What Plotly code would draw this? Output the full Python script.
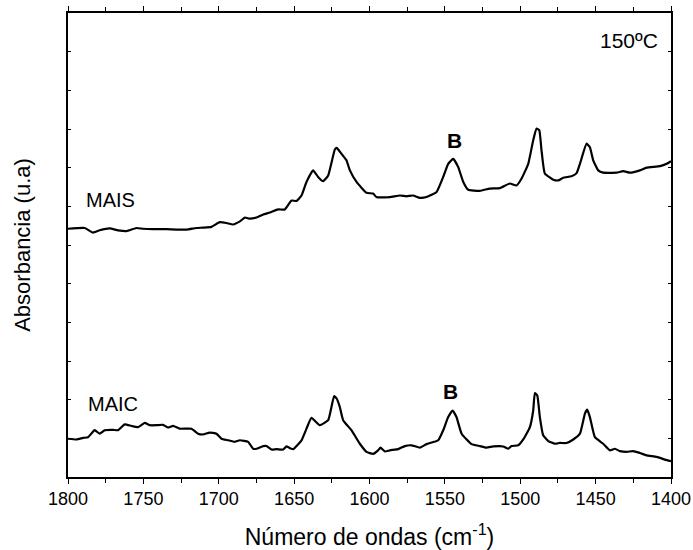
import plotly.graph_objects as go

# MAIS spectrum (upper trace), wavenumber in cm-1 and absorbance offset
mais_wn = [1800, 1788.9, 1783.4, 1779, 1772.3, 1766.8, 1761.2, 1754.6, 1750.2, 1743.6,
           1734.7, 1728.1, 1721.4, 1714.8, 1710.4, 1704.8, 1699.3, 1694.9, 1690.5, 1686,
           1682.7, 1679.4, 1675, 1670.5, 1666.1, 1660.6, 1656.2, 1651.7, 1648.4, 1645.1,
           1641.8, 1637.4, 1634.1, 1630.8, 1627.4, 1623, 1621.8, 1618.6, 1615.3, 1613,
           1608.6, 1602, 1597.6, 1595.4, 1586.5, 1579.9, 1575.5, 1571.1, 1566.6, 1562.2,
           1555.5, 1551.1, 1547.8, 1544.5, 1541.2, 1537.8, 1534.5, 1526.8, 1520.2, 1513.5,
           1506.9, 1502.5, 1499.1, 1494.7, 1491.4, 1489.2, 1487.4, 1485.9, 1483.7, 1478.1,
           1474.8, 1471.5, 1466, 1462.6, 1460.4, 1456, 1453.8, 1451.6, 1448.3, 1445,
           1436.1, 1431.7, 1427.2, 1420.6, 1416.2, 1407.3, 1402.9, 1400]
mais_abs = [6.42, 6.44, 6.32, 6.38, 6.43, 6.38, 6.36, 6.44, 6.42, 6.41,
            6.41, 6.40, 6.40, 6.44, 6.45, 6.47, 6.59, 6.57, 6.53, 6.61,
            6.71, 6.68, 6.71, 6.79, 6.84, 6.92, 6.92, 7.15, 7.14, 7.28,
            7.63, 7.93, 7.76, 7.65, 7.80, 8.47, 8.51, 8.36, 8.19, 7.93,
            7.63, 7.35, 7.33, 7.24, 7.24, 7.28, 7.26, 7.28, 7.22, 7.24,
            7.37, 7.76, 8.10, 8.23, 8.02, 7.63, 7.43, 7.40, 7.46, 7.47,
            7.59, 7.54, 7.72, 8.10, 8.71, 9.01, 8.97, 8.45, 7.85, 7.69,
            7.67, 7.74, 7.78, 7.86, 8.10, 8.62, 8.53, 8.19, 7.93, 7.87,
            7.87, 7.91, 7.87, 7.93, 8.00, 8.04, 8.10, 8.17]

# MAIC spectrum (lower trace)
maic_wn = [1800, 1794.4, 1790, 1786.7, 1782.3, 1779, 1775.7, 1770.1, 1766.8, 1762.4,
           1757.9, 1753.5, 1749.1, 1745.8, 1741.3, 1737, 1733.6, 1730.3, 1725.9, 1718.1,
           1713.7, 1710.4, 1706, 1701.5, 1698.2, 1693.8, 1689.4, 1686, 1680.5, 1677.2,
           1675, 1670.5, 1668.3, 1665, 1661.7, 1657.3, 1655.1, 1652.9, 1650.7, 1645.1,
           1641.8, 1638.5, 1633, 1627.4, 1623.5, 1621.8, 1619.7, 1617.5, 1612, 1606.4,
           1602, 1597.6, 1594.3, 1592.7, 1589.8, 1586.5, 1581, 1576.6, 1572.1, 1566.6,
           1562.2, 1554.4, 1551.1, 1547.8, 1544.9, 1542.3, 1538.9, 1532.3, 1526.8, 1522.4,
           1517.9, 1511.3, 1508, 1505.8, 1501.3, 1498, 1493.6, 1491.4, 1490.3, 1488.7,
           1487, 1484.8, 1481.4, 1477, 1473.7, 1469.3, 1464.8, 1460.4, 1457.1, 1455.6,
           1453.8, 1450.5, 1445, 1440.5, 1437.2, 1433.9, 1429.5, 1425, 1420.6, 1416.2,
           1409.5, 1404, 1400]
maic_abs = [0.99, 0.97, 1.01, 1.03, 1.21, 1.12, 1.21, 1.22, 1.21, 1.36,
            1.32, 1.29, 1.40, 1.34, 1.34, 1.35, 1.28, 1.32, 1.25, 1.25,
            1.12, 1.10, 1.15, 1.12, 0.99, 0.95, 0.91, 0.95, 0.91, 0.73,
            0.73, 0.80, 0.80, 0.71, 0.72, 0.71, 0.79, 0.75, 0.72, 0.95,
            1.25, 1.53, 1.34, 1.47, 2.09, 2.03, 1.81, 1.47, 1.21, 0.86,
            0.65, 0.60, 0.69, 0.76, 0.66, 0.69, 0.72, 0.80, 0.82, 0.76,
            0.85, 0.95, 1.21, 1.55, 1.72, 1.55, 1.12, 0.85, 0.80, 0.76,
            0.79, 0.79, 0.73, 0.80, 0.82, 0.97, 1.29, 1.72, 2.17, 2.11,
            1.55, 1.08, 0.93, 0.86, 0.88, 0.88, 0.97, 1.12, 1.64, 1.74,
            1.55, 1.03, 0.86, 0.69, 0.73, 0.67, 0.65, 0.67, 0.62, 0.56,
            0.52, 0.45, 0.41]

x_ticks = [1800, 1750, 1700, 1650, 1600, 1550, 1500, 1450, 1400]

FONT = "Liberation Sans, Arial, sans-serif"

fig = go.Figure()
for wn, ab in [(mais_wn, mais_abs), (maic_wn, maic_abs)]:
    fig.add_trace(go.Scatter(x=wn, y=ab, mode="lines",
                             line=dict(color="black", width=2.2, shape="spline", smoothing=0.4),
                             showlegend=False, hoverinfo="skip"))

labels = [
    (1771.7, 7.16, "MAIS", 20),
    (1770, 1.89, "MAIC", 20),
    (1543.4, 8.70, "<b>B</b>", 21),
    (1546, 2.20, "<b>B</b>", 21),
    (1427.9, 11.29, "150ºC", 21),
]
for x, y, text, size in labels:
    fig.add_annotation(x=x, y=y, text=text, showarrow=False,
                       font=dict(family=FONT, color="black", size=size),
                       xanchor="center", yanchor="middle")

fig.update_layout(
    width=693, height=550,
    margin=dict(l=68, r=22, t=13, b=73),
    paper_bgcolor="white", plot_bgcolor="white",
    font=dict(family=FONT, color="black", size=17),
    xaxis=dict(
        range=[1800, 1400], tickvals=x_ticks, ticktext=[str(v) for v in x_ticks],
        ticks="outside", ticklen=5, tickwidth=1.2, tickcolor="black",
        minor=dict(dtick=25, tick0=1400, ticks="outside", ticklen=4, tickwidth=1.2, tickcolor="black"),
        showline=True, linecolor="black", linewidth=1.5, mirror="ticks",
        showgrid=False, zeroline=False, automargin=False,
        tickfont=dict(size=18), ticklabeloverflow="allow",
        title=dict(text="Número de ondas (cm<sup>-1</sup>)", font=dict(size=23), standoff=22),
    ),
    yaxis=dict(
        range=[0, 12], dtick=1, tick0=0, showticklabels=False,
        ticks="inside", ticklen=3, tickwidth=1.2, tickcolor="black",
        showline=True, linecolor="black", linewidth=1.5, mirror="ticks",
        showgrid=False, zeroline=False, automargin=False,
        title=dict(text="Absorbancia (u.a)", font=dict(size=22), standoff=30),
    ),
)

fig.write_html("out.html")
